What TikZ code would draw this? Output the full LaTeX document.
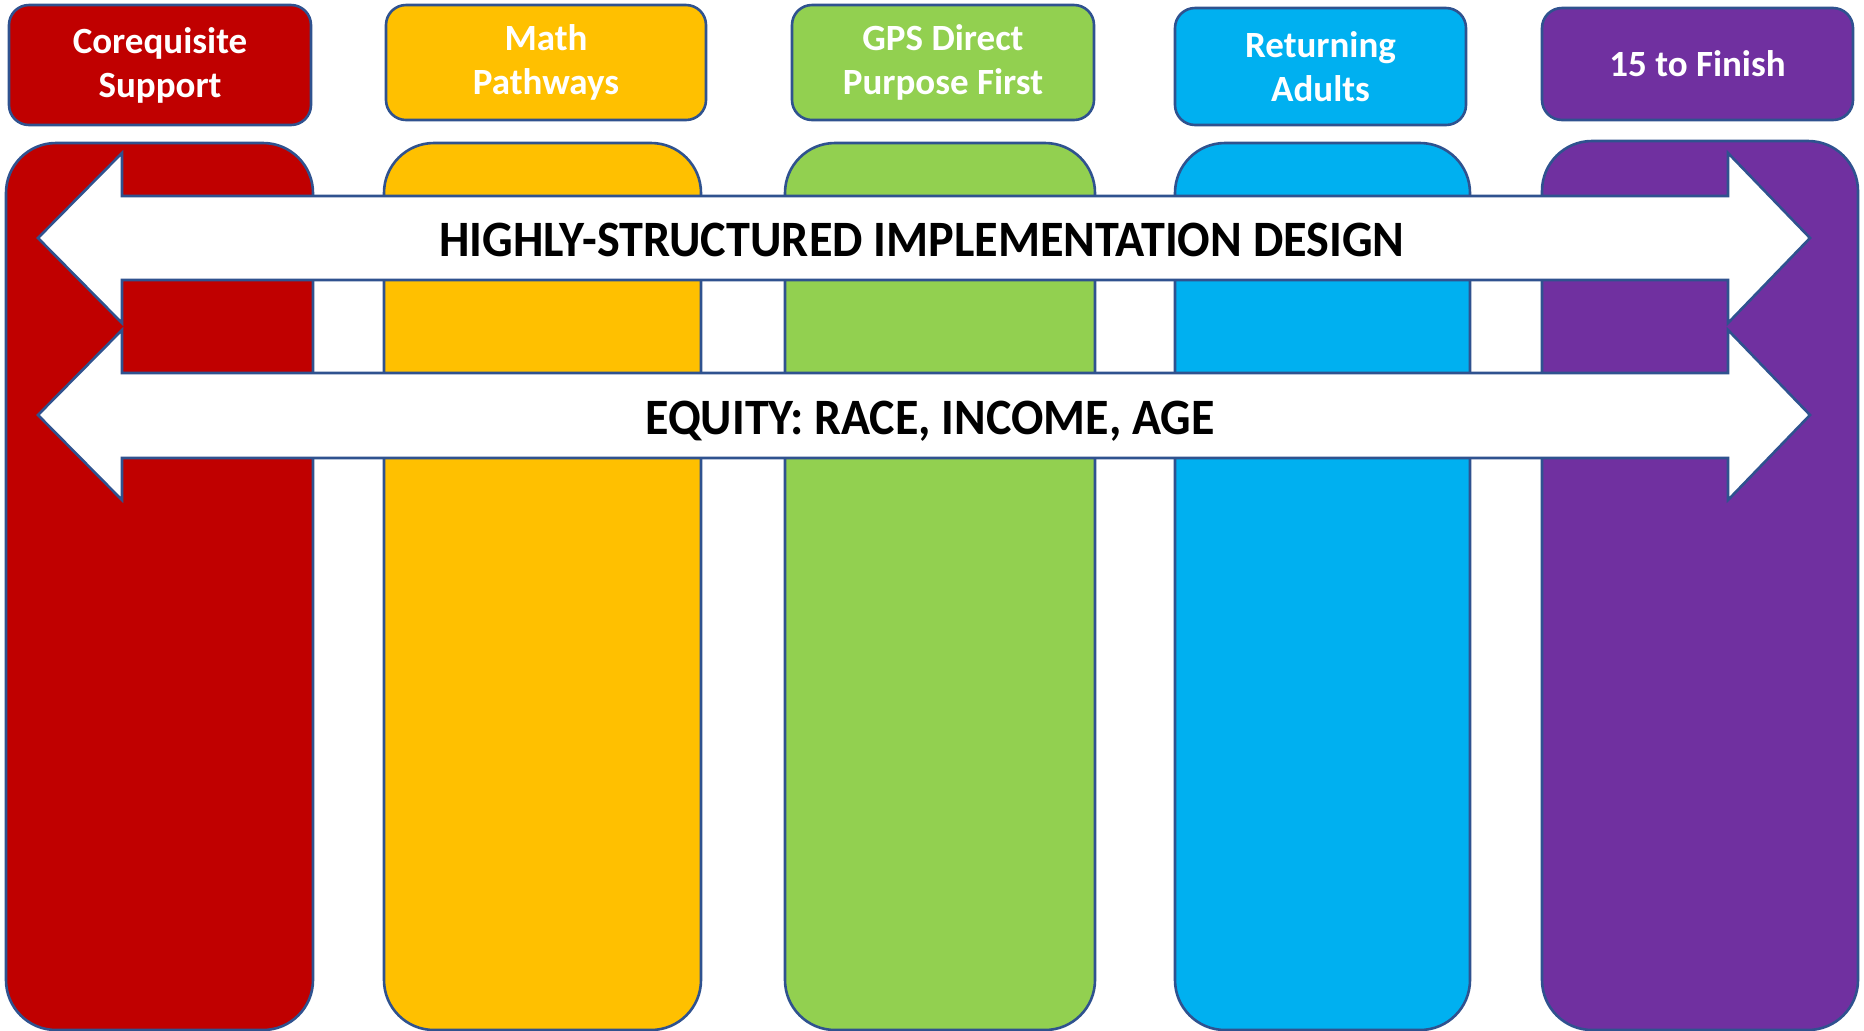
\documentclass[tikz,border=0pt]{standalone}
\usepackage{graphicx}
\usepackage{fontspec}
\setmainfont{Carlito}
\definecolor{edge}{HTML}{2F528F}
\definecolor{coreq}{HTML}{C00000}
\definecolor{mathp}{HTML}{FFC000}
\definecolor{gpsd}{HTML}{92D050}
\definecolor{radult}{HTML}{00B0F0}
\definecolor{fifteen}{HTML}{7030A0}
\begin{document}
\begin{tikzpicture}[x=0.5pt,y=-0.5pt,
  col/.style={draw=edge,line width=1.3pt,rounded corners=25pt},
  hdr/.style={draw=edge,line width=1.3pt,rounded corners=10pt,text=white,align=center,
    inner sep=0pt,font=\fontsize{18.5}{22}\selectfont\bfseries},
  arw/.style={draw=edge,line width=1.3pt,fill=white},
  band/.style={font=\fontsize{25.5}{30}\selectfont\bfseries}]
  \useasboundingbox (0,0) rectangle (1864,1030);
  % columns
  \draw[col,fill=coreq] (6,143) rectangle (313,1030);
  \draw[col,fill=mathp] (384,143) rectangle (701,1030);
  \draw[col,fill=gpsd] (785,143) rectangle (1095,1030);
  \draw[col,fill=radult] (1175,143) rectangle (1470,1030);
  \draw[col,fill=fifteen] (1542,141) rectangle (1858,1030);
  % headers
  \node[hdr,fill=coreq,minimum width=151pt,minimum height=60pt] (corq) at (160,65) {Corequisite\\Support};
  \node[hdr,fill=mathp,minimum width=160pt,minimum height=57.5pt] (mpath) at (546,62.5) {Math\\Pathways};
  \node[hdr,fill=gpsd,minimum width=151pt,minimum height=57.5pt] (gps) at (943,62.5) {GPS Direct\\Purpose First};
  \node[hdr,fill=radult,minimum width=145.5pt,minimum height=58.5pt] (radu) at (1320.5,66.5) {\raisebox{-2pt}{Returning}\\\raisebox{-2pt}{Adults}};
  \node[hdr,fill=fifteen,minimum width=155.5pt,minimum height=56pt] (fin) at (1697.5,64) {15 to Finish};
  % double arrows
  \draw[arw] (38,238) -- (122,153) -- (122,196) -- (1728,196) -- (1728,153) -- (1810,238)
    -- (1728,323) -- (1728,280) -- (122,280) -- (122,323) -- cycle;
  \draw[arw] (38,415) -- (122,330) -- (122,373) -- (1728,373) -- (1728,330) -- (1810,415)
    -- (1728,500) -- (1728,458) -- (122,458) -- (122,500) -- cycle;
  \node[band] (hisd) at (922,240) {\scalebox{0.945}[1]{HIGHLY-STRUCTURED IMPLEMENTATION DESIGN}};
  \node[band] (equ) at (930,421) {\scalebox{0.94}[1]{EQUITY: RACE, INCOME, AGE}};
\end{tikzpicture}
\end{document}
